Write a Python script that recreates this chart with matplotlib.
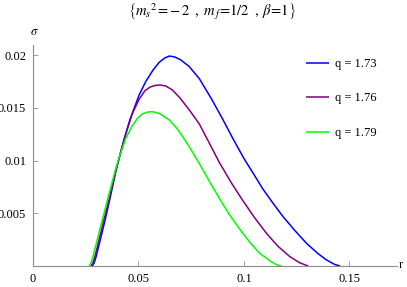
from matplotlib import pyplot as plt
import matplotlib.ticker as ticker
import matplotlib

matplotlib.rcParams['font.family'] = ['Liberation Serif', 'DejaVu Serif']
matplotlib.rcParams['mathtext.fontset'] = 'stix'
matplotlib.rcParams.update({'font.size': 9})

# values
r_173 = [0.0281, 0.0290, 0.0298, 0.0307, 0.0340, 0.0365, 0.0392, 0.0430, 0.0460,
         0.0503, 0.0535, 0.0570, 0.0599, 0.0625, 0.0646, 0.0670, 0.0700, 0.0741,
         0.0789, 0.0849, 0.0900, 0.0950, 0.1000, 0.1050, 0.1090, 0.1140, 0.1186,
         0.1240, 0.1297, 0.1350, 0.1392, 0.1430, 0.1456]
s_173 = [0.0, 0.0003, 0.0008, 0.0015, 0.0042, 0.0064, 0.0089, 0.0119, 0.0139,
         0.0162, 0.0175, 0.0186, 0.01932, 0.01972, 0.0199, 0.01983, 0.01955, 0.0189,
         0.01775, 0.01575, 0.0139, 0.0120, 0.0102, 0.0086, 0.0073, 0.0059, 0.00467,
         0.0034, 0.00215, 0.0012, 0.00057, 0.00015, 0.0]

r_176 = [0.0275, 0.0284, 0.0292, 0.0301, 0.0335, 0.0362, 0.0392, 0.0420, 0.0440,
         0.0470, 0.0503, 0.0530, 0.0555, 0.0580, 0.0603, 0.0630, 0.0660, 0.0694,
         0.0741, 0.0789, 0.0840, 0.0884, 0.0940, 0.0995, 0.1050, 0.1107, 0.1160,
         0.1217, 0.1265, 0.1305]
s_176 = [0.0, 0.0003, 0.0008, 0.0015, 0.0043, 0.0064, 0.0090, 0.0111, 0.0125,
         0.0144, 0.0158, 0.0166, 0.01696, 0.01712, 0.01716, 0.01706, 0.0167, 0.0160,
         0.0148, 0.01345, 0.0115, 0.0098, 0.0079, 0.0062, 0.0046, 0.0031, 0.0019,
         0.0009, 0.0003, 0.0]

r_179 = [0.0266, 0.0275, 0.0283, 0.0292, 0.0329, 0.0360, 0.0392, 0.0410, 0.0440,
         0.0471, 0.0495, 0.0519, 0.0545, 0.0567, 0.0600, 0.0646, 0.0680, 0.0710,
         0.0741, 0.0789, 0.0840, 0.0884, 0.0930, 0.0980, 0.1030, 0.1075, 0.1130,
         0.1155, 0.1178]
s_179 = [0.0, 0.0003, 0.0008, 0.0015, 0.0044, 0.0068, 0.0092, 0.0104, 0.0121,
         0.0133, 0.0140, 0.01443, 0.0146, 0.01463, 0.01445, 0.01385, 0.0131, 0.01225,
         0.0113, 0.0097, 0.0079, 0.0064, 0.0049, 0.0035, 0.0022, 0.0012, 0.0004,
         0.00012, 0.0]

series = [
	(r_173, s_173, 'q = 1.73', (0.0, 0.0, 1.0)),
	(r_176, s_176, 'q = 1.76', (0.5, 0.0, 0.5)),
	(r_179, s_179, 'q = 1.79', (0.0, 1.0, 0.0)),
]

x_ticks = [0, 0.05, 0.1, 0.15]
x_labels = ['0', '0.05', '0.1', '0.15']
y_ticks = [0.005, 0.01, 0.015, 0.02]
y_labels = ['0.005', '0.01', '0.015', '0.02']


def main():
	fig = plt.figure(figsize=(4.07, 2.87), dpi=100)
	ax = fig.add_axes([33 / 407, 21 / 287, 364 / 407, 221 / 287])

	for r, s, label, color in series:
		ax.plot(r, s, color=color, lw=1.1, label=label, solid_capstyle='butt')

	ax.set_xlim(0, 0.1726)
	ax.set_ylim(0, 0.02095)

	axis_gray = (0.55, 0.55, 0.55)
	for side in ['top', 'right']:
		ax.spines[side].set_visible(False)
	for side in ['left', 'bottom']:
		ax.spines[side].set_color(axis_gray)
		ax.spines[side].set_linewidth(0.8)

	ax.set_xticks(x_ticks)
	ax.set_xticklabels(x_labels)
	ax.set_yticks(y_ticks)
	ax.set_yticklabels(y_labels)
	ax.tick_params(direction='in', length=3.5, width=0.6, color=axis_gray, pad=5)
	ax.xaxis.set_minor_locator(ticker.NullLocator())
	ax.yaxis.set_minor_locator(ticker.NullLocator())
	ax.patch.set_visible(False)

	fig.text(401 / 407, 1 - 265 / 287, 'r', ha='center', va='center')
	fig.text(34 / 407, 1 - 32 / 287, r'$\sigma$', ha='center', va='center')
	fig.text(212 / 407, 1 - 12 / 287,
	         r'$\left\{m_s{}^2\!=\!-2\;\;,\;m_{\,f}\!=\!1/2\;\;,\;\beta\!=\!1\right\}$',
	         ha='center', va='center', fontsize=10.5)

	ax.legend(frameon=False, loc='upper left', bbox_to_anchor=(306 / 407, 1 - 58 / 287),
	          bbox_transform=fig.transFigure, handlelength=1.8, handletextpad=0.55,
	          labelspacing=1.8, borderaxespad=0, borderpad=0)

	fig.savefig('out.png', dpi=100)


if __name__ == '__main__':
	main()
